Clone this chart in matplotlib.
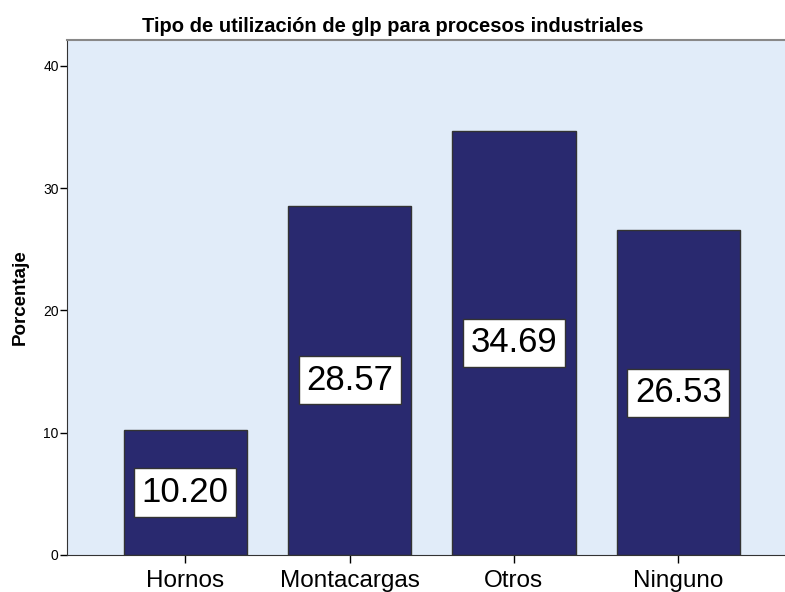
import matplotlib.pyplot as plt

categorias = ['Hornos', 'Montacargas', 'Otros', 'Ninguno']
porcentajes = [10.20, 28.57, 34.69, 26.53]
etiquetas = ['10.20', '28.57', '34.69', '26.53']

plt.rcParams['font.family'] = ['Liberation Sans', 'DejaVu Sans']

fig = plt.figure(figsize=(7.85, 5.92), dpi=100)
# ejes: izquierda x=67, arriba y=40, abajo y=555, derecha hasta el borde
ax = fig.add_axes([67/785, (592-555)/592, 1 - 67/785, (555-40)/592])
ax.set_facecolor('#e1ecf9')

x = range(len(categorias))
ax.bar(x, porcentajes, width=0.75, color='#29296f', edgecolor='#333333', linewidth=1, zorder=2)

for i, v in enumerate(porcentajes):
    ax.text(i, v/2, etiquetas[i], ha='center', va='center', fontsize=25, color='black',
            bbox=dict(boxstyle='square,pad=0.22', facecolor='white', edgecolor='#333333', linewidth=1),
            zorder=3)

ax.set_xlim(-0.72, 3.65)
ax.set_ylim(0, 42.1)
ax.set_yticks([0, 10, 20, 30, 40])
ax.set_xticks(list(x))
ax.set_xticklabels(categorias, fontsize=17.5)
ax.tick_params(axis='y', labelsize=10, length=5, width=1, pad=1)
ax.tick_params(axis='x', length=6, width=1, pad=5)

ax.spines['right'].set_visible(False)
ax.spines['top'].set_color('#888888')
ax.spines['top'].set_linewidth(1.5)
ax.spines['left'].set_color('#333333')
ax.spines['bottom'].set_color('#333333')

ax.set_ylabel('Porcentaje', fontsize=13.5, fontweight='bold', labelpad=10)
fig.text(0.5, 1 - 27/592, 'Tipo de utilización de glp para procesos industriales',
         ha='center', va='center', fontsize=14.5, fontweight='bold')

fig.savefig('out.png', dpi=100)
